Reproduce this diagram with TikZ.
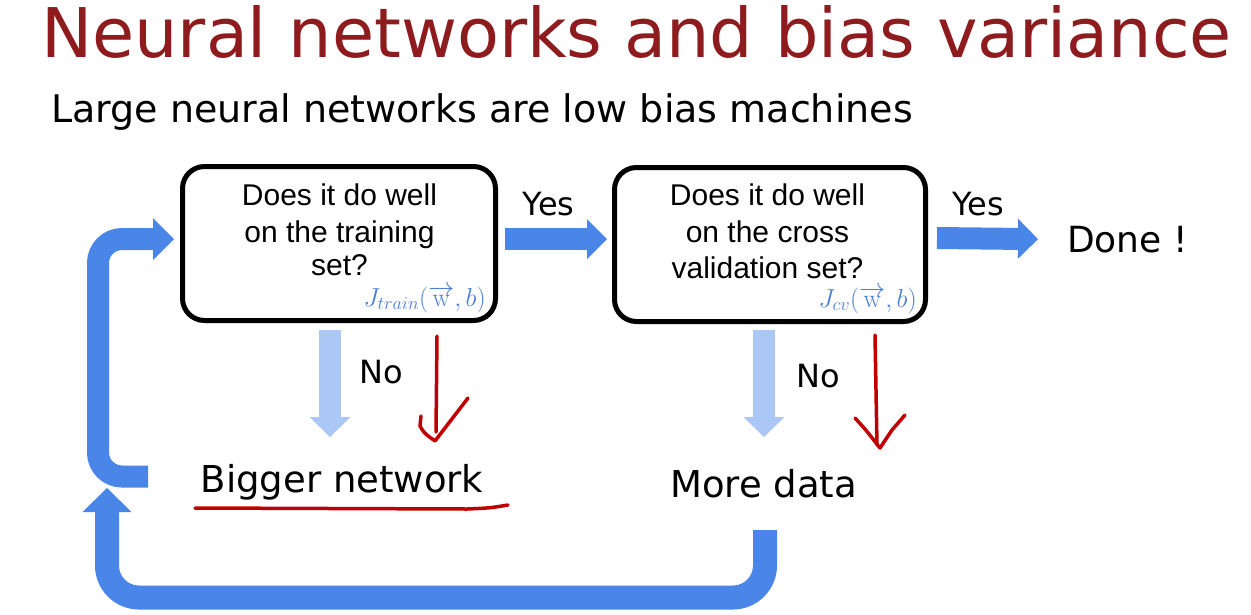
\documentclass[tikz,border=0pt]{standalone}
\usepackage{fix-cm}
\usepackage[no-math]{fontspec}
\setmainfont{DejaVu Sans}
\newfontfamily\arialf{Liberation Sans}
\usetikzlibrary{arrows.meta}
\definecolor{titlered}{HTML}{8E1B1E}
\definecolor{gblue}{HTML}{4A86E8}
\definecolor{lblue}{HTML}{ABC7F5}
\definecolor{penred}{HTML}{C00000}
\definecolor{fblue}{HTML}{4A7FD8}
\begin{document}
\begin{tikzpicture}[x=1pt,y=-1pt,
  qbox/.style={draw=black, line width=5pt, rounded corners=22pt, minimum width=313pt, minimum height=154pt, inner sep=0pt},
  qtext/.style={font=\arialf\fontsize{30}{36}\selectfont, anchor=base, inner sep=0pt},
  lbl/.style={font=\fontsize{32}{38}\selectfont, anchor=base, inner sep=0pt},
  bigtxt/.style={font=\fontsize{37}{44}\selectfont, anchor=base, inner sep=0pt},
  formula/.style={text=fblue, font=\fontsize{26}{30}\selectfont, anchor=base east, inner sep=0pt},
  bluearr/.style={draw=gblue, line width=22pt, -{Triangle[length=20pt,width=40pt,line width=0pt]}},
  lightarr/.style={draw=lblue, line width=22pt, -{Triangle[length=20pt,width=41pt,line width=0pt]}},
  pen/.style={draw=penred, line width=3.5pt, line cap=round, line join=round}
]
\useasboundingbox (0,0) rectangle (1251,614);
\fill[white] (0,0) rectangle (1251,614);

% titles
\node[anchor=base, inner sep=0pt, text=titlered, font=\fontsize{68.5}{80}\selectfont] (title) at (636.5,57) {Neural networks and bias variance};
\node[anchor=base, inner sep=0pt, font=\fontsize{38}{46}\selectfont] (subtitle) at (482,122) {Large neural networks are low bias machines};

% boxes
\node[qbox] (b1) at (339,243.5) {};
\node[qbox, minimum width=311pt] (b2) at (770,244.5) {};

\node[qtext] (b1l1) at (339.5,205) {Does it do well};
\node[qtext] (b1l2) at (339.5,242) {on the training};
\node[qtext] (b1l3) at (339.5,275) {set?};
\node[formula] (f1) at (486,306) {$J_{train}(\overrightarrow{\mathrm{w}},b)$};

\node[qtext] (b2l1) at (767.5,205) {Does it do well};
\node[qtext] (b2l2) at (767.5,242) {on the cross};
\node[qtext] (b2l3) at (767.5,278) {validation set?};
\node[formula] (f2) at (917,307) {$J_{cv}(\overrightarrow{\mathrm{w}},b)$};

% labels
\node[lbl] (yes1) at (548.5,215) {Yes};
\node[lbl] (yes2) at (978,215) {Yes};
\node[bigtxt, font=\fontsize{36}{43}\selectfont] (done) at (1127.5,252) {Done !};
\node[lbl] (no1) at (381,383) {No};
\node[lbl] (no2) at (818,387) {No};
\node[bigtxt] (bigger) at (342,492) {Bigger network};
\node[bigtxt] (more) at (763.5,497) {More data};

% yes arrows
\draw[bluearr] ([xshift=7pt,yshift=4.5pt]b1.east) -- ([xshift=-5pt,yshift=5.5pt]b2.west);
\draw[bluearr] ([xshift=9pt,yshift=6.5pt]b2.east) -- ([xshift=-29pt]done.west);

% no arrows
\coordinate (n1tip) at (330,437);
\coordinate (n2tip) at (764,437);
\draw[lightarr, shorten <=7pt] (b1.south -| n1tip) -- (n1tip);
\draw[lightarr, shorten <=6pt] (b2.south -| n2tip) -- (n2tip);

% loop arrows
\coordinate (aStart) at (148,476.5);
\coordinate (aTip) at (174,239);
\draw[draw=gblue, line width=22pt, rounded corners=24pt, -{Triangle[length=21pt,width=42pt,line width=0pt]}]
  (aStart) -- (98,476.5) -- (98,239) -- (aTip);
\coordinate (bStart) at (765,530);
\coordinate (bTip) at (107,488);
\draw[draw=gblue, line width=24pt, rounded corners=32pt, -{Triangle[length=24pt,width=49pt,line width=0pt]}]
  (bStart) -- (765,597.5) -- (107,597.5) -- (bTip);

% red pen marks
\draw[pen] (437,336) -- (436,432);
\draw[pen] (421,416) -- (420,426) .. controls (424,433) .. (435,441) -- (468,398);
\draw[pen] (875,335) -- (877,445);
\draw[pen] (855,418) .. controls (866,430) .. (880,448) -- (892,430) .. controls (898,422) .. (905,415);
\draw[pen] (195,508) -- (467,509) .. controls (490,508) .. (508,505);
\end{tikzpicture}
\end{document}
